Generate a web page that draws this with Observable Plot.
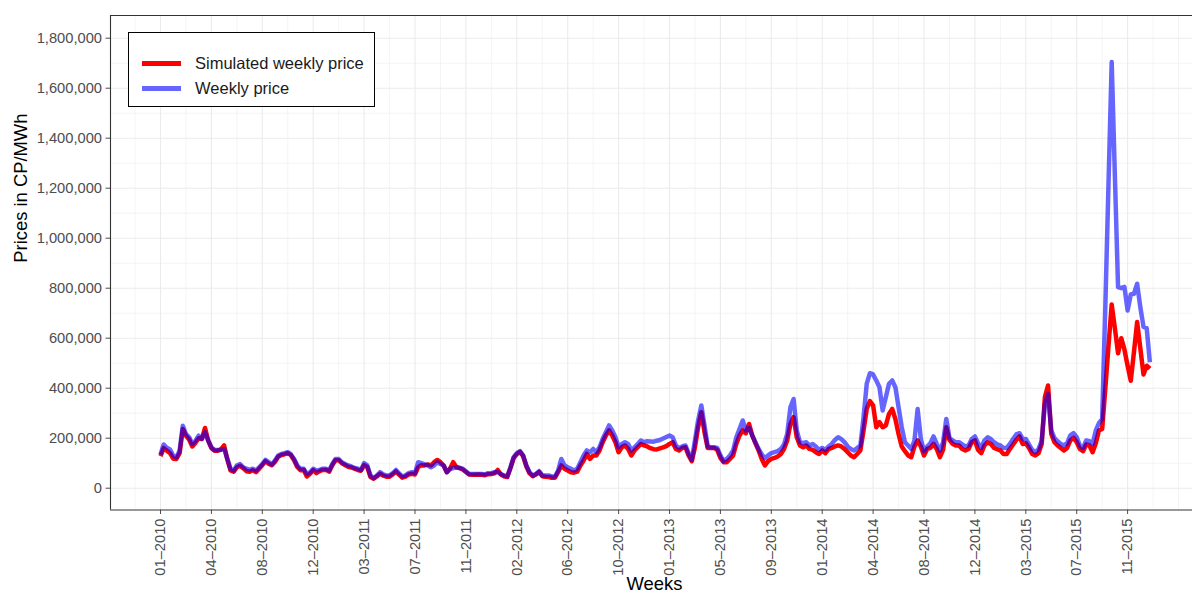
<!DOCTYPE html>
<html>
<head>
<meta charset="utf-8">
<script src="https://cdn.jsdelivr.net/npm/d3@7"></script>
<script src="https://cdn.jsdelivr.net/npm/@observablehq/plot@0.6"></script>
<style>
  body { margin: 0; background: #fff; font-family: "Liberation Sans", Arial, Helvetica, sans-serif; }
  #wrap { position: relative; width: 1192px; height: 595px; overflow: hidden; }
  #legend { position: absolute; left: 128px; top: 32px; width: 245px; height: 73px; border: 1px solid #000; background: #fff; }
  .row { position: absolute; left: 13px; height: 20px; display: flex; align-items: center; font-size: 16.5px; color: #1a1a1a; white-space: nowrap; }
  .sw { width: 39px; height: 5px; margin-right: 14px; }
</style>
</head>
<body>
<div id="wrap">
  <div id="chart"></div>
  <div id="legend">
    <div class="row" style="top:20px"><div class="sw" style="background:#ff0000"></div><span>Simulated weekly price</span></div>
    <div class="row" style="top:45px"><div class="sw" style="background:#6666ff"></div><span>Weekly price</span></div>
  </div>
</div>
<script>
// Weekly prices, in thousands of CP/MWh, weeks 0..311 (2010–2015)
const weeklyPriceK = [
  135,175,162,155,130,124,150,250,217,204,
  177,190,210,197,224,190,164,153,153,153,
  157,118,78,71,91,97,84,78,73,78,
  71,84,97,113,104,95,111,131,137,140,
  144,135,117,91,78,78,57,64,78,71,
  73,78,78,71,97,117,117,104,97,91,
  87,81,78,73,100,91,51,41,51,64,
  55,51,51,60,73,60,47,51,60,64,
  60,104,100,95,91,84,91,104,97,91,
  64,78,80,84,81,78,68,57,57,57,
  57,57,55,60,60,64,64,57,51,47,
  84,124,140,148,131,91,64,51,57,68,
  51,51,51,47,47,71,117,91,84,78,
  71,78,104,131,151,144,157,144,164,197,
  224,251,231,204,164,177,184,177,151,164,
  177,191,184,188,187,186,190,193,199,205,
  211,204,171,161,167,171,140,113,191,271,
  331,251,167,164,164,161,131,108,117,131,
  151,204,237,271,231,241,211,184,157,135,
  121,131,140,144,148,157,175,217,324,357,
  231,184,180,184,171,177,167,153,161,153,
  167,177,193,204,196,184,167,157,151,161,
  171,284,418,460,455,431,404,311,364,418,
  431,404,324,244,184,171,157,191,317,197,
  148,167,180,207,177,151,184,277,201,191,
  184,184,175,167,171,197,207,180,161,191,
  204,197,184,175,171,161,161,177,197,215,
  220,197,197,175,153,144,157,191,337,377,
  231,201,188,177,171,180,211,220,204,171,
  161,191,188,177,231,260,277,730,1220,1705,
  1250,804,800,805,711,775,778,818,724,645,
  640,504
];
const simulatedPriceK = [
  128,160,150,140,118,117,140,237,210,195,
  167,182,200,197,241,190,160,150,150,155,
  171,115,71,66,84,90,80,68,66,72,
  64,78,92,108,98,92,106,126,133,136,
  140,132,112,85,72,74,47,58,72,60,
  68,73,74,66,92,112,112,100,93,86,
  83,78,73,70,92,85,45,38,47,58,
  50,46,46,55,67,54,42,46,55,58,
  55,84,92,91,95,91,104,113,104,91,
  64,78,104,84,81,75,65,55,54,54,
  55,54,52,56,57,60,73,55,48,45,
  80,120,136,145,128,88,60,48,55,65,
  48,46,45,42,42,65,91,78,71,64,
  62,66,91,111,137,117,131,131,151,184,
  211,231,211,184,144,164,171,157,131,151,
  164,177,171,167,160,156,155,159,163,168,
  177,184,157,151,161,164,131,108,164,244,
  304,224,161,161,161,153,121,104,104,117,
  131,177,211,231,220,257,211,180,151,117,
  91,108,117,121,127,137,157,191,257,284,
  204,171,164,171,157,153,144,137,151,140,
  156,161,167,171,167,157,144,131,124,137,
  151,231,317,348,331,244,264,244,251,297,
  317,277,217,167,148,131,124,167,191,167,
  131,157,161,177,157,124,153,244,193,177,
  171,171,157,151,157,184,191,153,140,171,
  184,177,161,156,151,137,137,157,175,193,
  207,177,180,161,137,131,140,177,364,411,
  217,184,171,161,151,161,191,201,184,157,
  148,175,171,144,180,231,237,400,570,735,
  640,540,600,555,490,430,545,665,560,455,
  490,478
];
const tickWeeks = [0,16,32,48,64,80,96,112,128,144,160,176,192,208,224,240,256,272,288,304];
const tickLabels = ["01–2010","04–2010","08–2010","12–2010","03–2011","07–2011","11–2011","02–2012","06–2012","10–2012",
                    "01–2013","05–2013","09–2013","01–2014","04–2014","08–2014","12–2014","03–2015","07–2015","11–2015"];
const minorWeeks = [-8,8,24,40,56,72,88,104,120,136,152,168,184,200,216,232,248,264,280,296,312,320];
const yMajor = [0,200000,400000,600000,800000,1000000,1200000,1400000,1600000,1800000];
const yMinor = [100000,300000,500000,700000,900000,1100000,1300000,1500000,1700000];

const UNIT = 1000;
const simulated = simulatedPriceK.map((v, i) => ({week: i, price: v * UNIT}));
const weekly = weeklyPriceK.map((v, i) => ({week: i, price: v * UNIT}));

const xDomain = [-15.72, 324.4];
const yDomain = [-87200, 1890800];
const fontFamily = '"Liberation Sans", Arial, Helvetica, sans-serif';

const chart = Plot.plot({
  width: 1192,
  height: 595,
  marginLeft: 110,
  marginRight: 0,
  marginTop: 15,
  marginBottom: 85.5,
  style: {fontFamily, fontSize: "14.7px", background: "#fff", overflow: "visible"},
  x: {domain: xDomain},
  y: {domain: yDomain},
  marks: [
    Plot.ruleY(yMinor, {stroke: "#EBEBEB", strokeWidth: 0.55}),
    Plot.ruleX(minorWeeks, {stroke: "#EBEBEB", strokeWidth: 0.55}),
    Plot.ruleY(yMajor, {stroke: "#EBEBEB", strokeWidth: 1.1}),
    Plot.ruleX(tickWeeks, {stroke: "#EBEBEB", strokeWidth: 1.1}),
    Plot.line(simulated, {x: "week", y: "price", stroke: "#ff0000", strokeWidth: 4.5, strokeLinejoin: "round", strokeLinecap: "butt"}),
    Plot.line(weekly, {x: "week", y: "price", stroke: "#0000ff", strokeOpacity: 0.6, strokeWidth: 4.5, strokeLinejoin: "round", strokeLinecap: "butt"}),
    Plot.ruleX([xDomain[0]], {stroke: "#333333", strokeWidth: 1.1}),
    Plot.ruleY(yDomain, {stroke: "#333333", strokeWidth: 1.1}),
    Plot.axisX(tickWeeks, {
      tickFormat: (d) => tickLabels[tickWeeks.indexOf(d)],
      tickRotate: -90, tickSize: 4.5, tickPadding: 4,
      color: "#4D4D4D", fontSize: 14.7, label: null
    }),
    Plot.axisY(yMajor, {
      tickFormat: d3.format(","), tickSize: 4.5, tickPadding: 4,
      color: "#4D4D4D", fontSize: 14.7, label: null
    }),
    Plot.text(["Prices in CP/MWh"], {text: (d) => d, frameAnchor: "left", dx: -89.3, rotate: -90, fontSize: 18.4, fill: "#000"}),
    Plot.text(["Weeks"], {text: (d) => d, frameAnchor: "bottom", dx: 3, dy: 79.5, fontSize: 18.4, fill: "#000"})
  ]
});
document.getElementById("chart").appendChild(chart);
</script>
</body>
</html>
